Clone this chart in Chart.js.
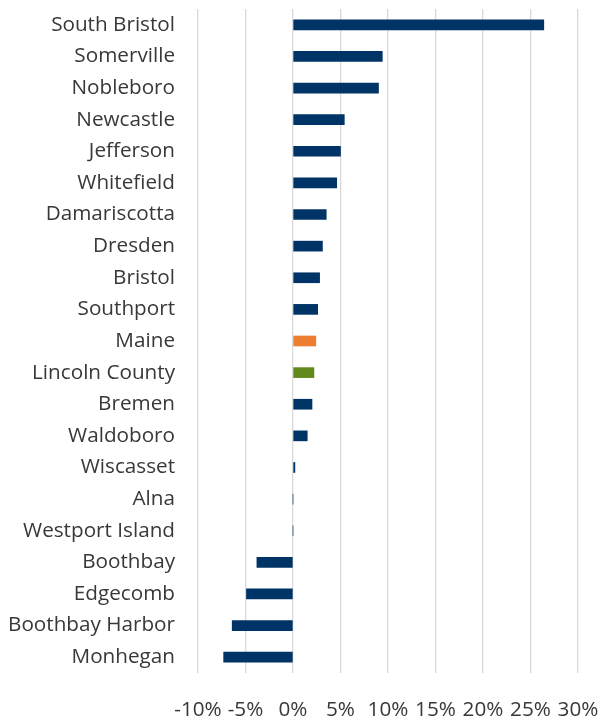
<!DOCTYPE html>
<html>
<head>
<meta charset="utf-8">
<script src="https://cdn.jsdelivr.net/npm/chart.js@4/dist/chart.umd.min.js"></script>
<style>
  html, body { margin: 0; padding: 0; background: #fff; }
  #wrap { width: 603px; height: 721px; }
</style>
</head>
<body>
<div id="wrap"><canvas id="chart" width="603" height="721"></canvas></div>
<script>
const towns = [
  'South Bristol', 'Somerville', 'Nobleboro', 'Newcastle', 'Jefferson',
  'Whitefield', 'Damariscotta', 'Dresden', 'Bristol', 'Southport',
  'Maine', 'Lincoln County', 'Bremen', 'Waldoboro', 'Wiscasset',
  'Alna', 'Westport Island', 'Boothbay', 'Edgecomb', 'Boothbay Harbor',
  'Monhegan'
];

// percent change
const change = [
  26.4, 9.4, 9.0, 5.4, 5.0,
  4.6, 3.5, 3.1, 2.8, 2.6,
  2.4, 2.2, 2.0, 1.5, 0.2,
  0, 0, -3.8, -4.9, -6.4,
  -7.3
];

const xTicks = [-10, -5, 0, 5, 10, 15, 20, 25, 30];

const NAVY = '#003366';
const barColors = towns.map(t => {
  if (t === 'Maine') return '#ed7d31';
  if (t === 'Lincoln County') return '#62891b';
  return NAVY;
});

const FONT = { family: '"Open Sans", sans-serif', size: 20.7 };

const ctx = document.getElementById('chart').getContext('2d');
new Chart(ctx, {
  type: 'bar',
  data: {
    labels: towns,
    datasets: [{
      data: change,
      backgroundColor: barColors,
      borderWidth: 0,
      barThickness: 10
    }]
  },
  options: {
    indexAxis: 'y',
    responsive: false,
    animation: false,
    layout: { padding: { top: 9, right: 25, left: 0, bottom: 0 } },
    plugins: {
      legend: { display: false },
      tooltip: { enabled: false }
    },
    scales: {
      x: {
        min: xTicks[0],
        max: xTicks[xTicks.length - 1],
        afterBuildTicks: (scale) => {
          scale.ticks = xTicks.map(v => ({ value: v }));
        },
        afterFit: (scale) => {
          scale.height = 48;
          scale.paddingLeft = 0;
          scale.paddingRight = 0;
        },
        grid: { color: '#d9d9d9', lineWidth: 1.3, drawTicks: false },
        border: { display: false },
        ticks: {
          padding: 25,
          maxRotation: 0,
          autoSkip: false,
          color: '#383838',
          font: FONT,
          callback: (v) => v + '%'
        }
      },
      y: {
        afterFit: (scale) => {
          scale.width = 198;
          scale.paddingTop = 0;
          scale.paddingBottom = 0;
        },
        grid: { display: false, drawTicks: false },
        border: { display: false },
        ticks: {
          padding: 23,
          autoSkip: false,
          color: '#383838',
          font: FONT
        }
      }
    }
  }
});
</script>
</body>
</html>
